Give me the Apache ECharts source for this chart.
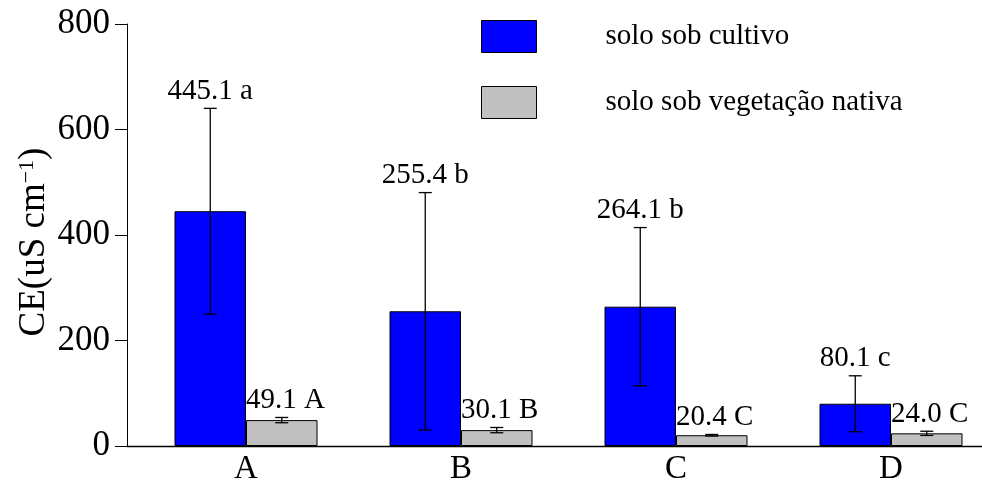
<!DOCTYPE html>
<html>
<head>
<meta charset="utf-8">
<script src="https://cdn.jsdelivr.net/npm/echarts@6/dist/echarts.min.js"></script>
<style>
html,body{margin:0;padding:0;background:#fff;}
#chart{width:982px;height:484px;}
</style>
</head>
<body>
<div id="chart"></div>
<script>
const categories = ['A', 'B', 'C', 'D'];
const seriesNames = ['solo sob cultivo', 'solo sob vegetação nativa'];
const cultivo = [445.1, 255.4, 264.1, 80.1];
const cultivoErr = [195, 225, 150, 53];
const cultivoLetters = ['a', 'b', 'b', 'c'];
const nativa = [49.1, 30.1, 20.4, 24.0];
const nativaErr = [5, 5, 1.5, 4];
const nativaLetters = ['A', 'B', 'C', 'C'];
const yTicks = [0, 200, 400, 600, 800];

const FONT = 'Liberation Serif';
const BAR_FRAC = 71.5 / 215;

function errSeries(name, values, errs, letters, side) {
  return {
    type: 'custom',
    name: name + ' err',
    xAxisIndex: 0,
    yAxisIndex: 0,
    z: 10,
    silent: true,
    data: values.map((v, i) => [i, v - errs[i], v + errs[i], v]),
    encode: { x: 0, y: [1, 2] },
    renderItem: function (params, api) {
      const i = api.value(0);
      const band = api.size([1, 0])[0];
      const bw = band * BAR_FRAC;
      const top = api.coord([i, api.value(2)]);
      const bot = api.coord([i, api.value(1)]);
      const cx = top[0] + side * bw / 2;
      const cap = 6.5;
      const ls = { stroke: '#000', lineWidth: 1.3 };
      const label = values[params.dataIndex].toFixed(1) + ' ' + letters[params.dataIndex];
      return {
        type: 'group',
        children: [
          { type: 'line', shape: { x1: cx, y1: top[1], x2: cx, y2: bot[1] }, style: ls },
          { type: 'line', shape: { x1: cx - cap, y1: top[1], x2: cx + cap, y2: top[1] }, style: ls },
          { type: 'line', shape: { x1: cx - cap, y1: bot[1], x2: cx + cap, y2: bot[1] }, style: ls },
          {
            type: 'text',
            style: {
              x: side < 0 ? cx : top[0],
              y: top[1] - 17,
              text: label,
              fill: '#000',
              font: '29px "' + FONT + '"',
              align: side < 0 ? 'center' : 'left',
              verticalAlign: 'middle'
            }
          }
        ]
      };
    }
  };
}

const chart = echarts.init(document.getElementById('chart'), null, { renderer: 'canvas' });
chart.setOption({
  animation: false,
  backgroundColor: '#fff',
  textStyle: { fontFamily: FONT },
  grid: [
    { left: 138.5, top: 24, bottom: 38, width: 860, containLabel: false, outerBoundsMode: 'none' },
    { left: 127, top: 24, bottom: 38, right: 0, containLabel: false, outerBoundsMode: 'none' }
  ],
  legend: {
    data: seriesNames,
    orient: 'vertical',
    left: 481,
    top: 20,
    padding: 0,
    itemWidth: 55,
    itemHeight: 32,
    itemGap: 33,
    icon: 'rect',
    itemStyle: { borderColor: '#000', borderWidth: 1 },
    textStyle: { fontFamily: FONT, fontSize: 29, color: '#000', padding: [0, 0, 0, 64] }
  },
  xAxis: [
    {
      type: 'category',
      gridIndex: 0,
      data: categories,
      axisLine: { show: false },
      axisTick: { show: false },
      axisLabel: { color: '#000', fontFamily: FONT, fontSize: 33, margin: 7 }
    },
    {
      type: 'value',
      gridIndex: 1,
      min: 0, max: 1,
      axisLine: { show: true, lineStyle: { color: '#000', width: 1.3 } },
      axisTick: { show: false },
      axisLabel: { show: false },
      splitLine: { show: false }
    }
  ],
  yAxis: [
    {
      type: 'value',
      gridIndex: 0,
      min: yTicks[0],
      max: yTicks[yTicks.length - 1],
      interval: yTicks[1] - yTicks[0],
      offset: 11.5,
      axisLine: { show: true, lineStyle: { color: '#000', width: 1 } },
      axisTick: { show: true, inside: false, length: 12, lineStyle: { color: '#000' } },
      axisLabel: { color: '#000', fontFamily: FONT, fontSize: 35, margin: 17 },
      splitLine: { show: false },
      name: 'CE(uS cm{sup|−1})',
      nameLocation: 'middle',
      nameRotate: 90,
      nameGap: 74,
      nameMoveOverlap: false,
      nameTextStyle: {
        color: '#000', fontFamily: FONT, fontSize: 37,
        padding: [0, 14, 0, 0],
        rich: { sup: { fontFamily: FONT, fontSize: 22, color: '#000', verticalAlign: 'top', padding: [0, 0, 14, 0] } }
      }
    },
    {
      type: 'value', gridIndex: 1, show: false, min: 0, max: 1
    }
  ],
  series: [
    {
      type: 'bar',
      name: seriesNames[0],
      data: cultivo,
      barWidth: (BAR_FRAC * 100) + '%',
      barGap: '0%',
      itemStyle: { color: '#0000FF', borderColor: '#000', borderWidth: 1 }
    },
    {
      type: 'bar',
      name: seriesNames[1],
      data: nativa,
      barWidth: (BAR_FRAC * 100) + '%',
      barGap: '0%',
      itemStyle: { color: '#C0C0C0', borderColor: '#000', borderWidth: 1 }
    },
    errSeries(seriesNames[0], cultivo, cultivoErr, cultivoLetters, -1),
    errSeries(seriesNames[1], nativa, nativaErr, nativaLetters, 1)
  ]
});
</script>
</body>
</html>
